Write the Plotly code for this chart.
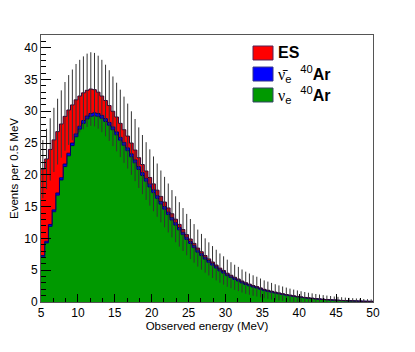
import numpy as np
import plotly.graph_objects as go

# energy bins: 0.5 MeV wide, lower edges from 5 to 49.5 MeV
bin_lo = np.arange(5.0, 50.0, 0.5)

# nu_e 40Ar (bottom, green)
nue_ar = [7.1, 9.3, 11.9, 14.2, 16.8, 19.2, 21.3, 23.0, 24.6, 26.0,
          27.2, 28.1, 28.8, 29.2, 29.3, 29.2, 28.9, 28.4, 27.8, 27.1,
          26.3, 25.45, 24.65, 23.8, 22.85, 21.9, 20.85, 19.9, 19.0, 18.1,
          17.2, 16.3, 15.4, 14.6, 13.75, 12.9, 12.1, 11.35, 10.6, 9.85,
          9.2, 8.55, 7.85, 7.3, 6.75, 6.25, 5.8, 5.35, 4.9, 4.55,
          4.15, 3.85, 3.55, 3.3, 3.0, 2.75, 2.55, 2.35, 2.2, 2.0,
          1.8, 1.67, 1.54, 1.4, 1.29, 1.17, 1.07, 0.97, 0.87, 0.8,
          0.72, 0.65, 0.58, 0.54, 0.48, 0.43, 0.39, 0.35, 0.31, 0.28,
          0.25, 0.22, 0.2, 0.18, 0.17, 0.15, 0.13, 0.11, 0.1, 0.09]

# anti-nu_e 40Ar (middle, blue)
nuebar_ar = [0.2, 0.25, 0.3, 0.3, 0.35, 0.35, 0.4, 0.4, 0.4, 0.45,
             0.45, 0.45, 0.45, 0.45, 0.45, 0.45, 0.45, 0.45, 0.45, 0.45,
             0.45, 0.45, 0.45, 0.45, 0.45, 0.45, 0.45, 0.45, 0.45, 0.44,
             0.43, 0.42, 0.41, 0.4, 0.39, 0.38, 0.37, 0.36, 0.35, 0.34,
             0.33, 0.32, 0.31, 0.3, 0.29, 0.28, 0.27, 0.26, 0.25, 0.24,
             0.23, 0.22, 0.21, 0.2, 0.19, 0.18, 0.17, 0.16, 0.15, 0.14,
             0.13, 0.12, 0.11, 0.1, 0.09, 0.09, 0.08, 0.07, 0.07, 0.06,
             0.06, 0.05, 0.05, 0.04, 0.04, 0.04, 0.03, 0.03, 0.03, 0.02,
             0.02, 0.02, 0.02, 0.02, 0.01, 0.01, 0.01, 0.01, 0.01, 0.01]

# elastic scattering (top, red)
es = [13.6, 12.95, 11.8, 11.0, 9.65, 8.45, 7.5, 6.8, 6.0, 5.35,
      4.75, 4.35, 4.05, 3.85, 3.65, 3.35, 3.05, 2.85, 2.65, 2.45,
      2.35, 2.2, 2.0, 1.85, 1.7, 1.55, 1.4, 1.27, 1.15, 1.05,
      0.95, 0.87, 0.8, 0.72, 0.65, 0.6, 0.55, 0.5, 0.45, 0.41,
      0.38, 0.35, 0.32, 0.3, 0.27, 0.25, 0.22, 0.2, 0.18, 0.17,
      0.15, 0.14, 0.13, 0.12, 0.11, 0.1, 0.09, 0.08, 0.07, 0.07,
      0.06, 0.06, 0.05, 0.05, 0.04, 0.04, 0.03, 0.03, 0.03, 0.02,
      0.02, 0.02, 0.02, 0.01, 0.01, 0.01, 0.01, 0.01, 0.01, 0.01,
      0.01, 0.01, 0.0, 0.0, 0.0, 0.0, 0.0, 0.0, 0.0, 0.0]

edges = np.append(bin_lo, bin_lo[-1] + 0.5)
centers = bin_lo + 0.25
total = np.array(nue_ar) + np.array(nuebar_ar) + np.array(es)

fig = go.Figure()

# stacked step histograms, bottom to top
for vals, fillc, linec in [(nue_ar, '#009900', '#000066'),
                           (nuebar_ar, '#0000ff', '#000066'),
                           (es, '#ff0000', '#330033')]:
    fig.add_trace(go.Scatter(
        x=edges, y=list(vals) + [vals[-1]],
        mode='lines', line=dict(shape='hv', width=1, color=linec),
        fillcolor=fillc, stackgroup='one', hoverinfo='skip'))

# poisson error bars on the sum
fig.add_trace(go.Scatter(
    x=centers, y=total, mode='markers',
    marker=dict(size=0.1, color='rgba(0,0,0,0)'),
    error_y=dict(type='sqrt', color='#333333', thickness=1, width=0)))

# legend (drawn by hand, ROOT style)
legend_rows = [
    ('#ff0000', '#552255', '<b>ES</b>'),
    ('#0000ff', '#333388',
     "<span style='font-family:Liberation Serif'>\u03bd\u0304</span><sub>e</sub>&nbsp;&nbsp;<sup>40</sup><b>Ar</b>"),
    ('#009900', '#334466',
     "<span style='font-family:Liberation Serif'>\u03bd</span><sub>e</sub>&nbsp;&nbsp;<sup>40</sup><b>Ar</b>"),
]
row_top = [0.9588, 0.880, 0.8015]
for (fc, lc, txt), top in zip(legend_rows, row_top):
    fig.add_shape(type='rect', xref='paper', yref='paper',
                  x0=0.6386, x1=0.6988, y0=top - 0.0524, y1=top,
                  fillcolor=fc, line=dict(color=lc, width=1))
    fig.add_annotation(xref='paper', yref='paper', x=0.708, y=top - 0.026,
                       xanchor='left', yanchor='middle', showarrow=False,
                       text=txt, font=dict(size=16, color='black'))

# page body has an 8px margin, so the margins are trimmed by that much
fig.update_layout(
    width=415, height=352,
    margin=dict(l=33, r=50, t=27, b=58, autoexpand=False),
    paper_bgcolor='white', plot_bgcolor='white',
    showlegend=False,
    font=dict(family='Liberation Sans, Arial, sans-serif', color='black'),
)
fig.update_xaxes(
    range=[5, 50], tickvals=[5, 10, 15, 20, 25, 30, 35, 40, 45, 50],
    ticks='inside', ticklen=8, tickcolor='black', tickfont=dict(size=12),
    minor=dict(dtick=5 / 3, tick0=5, ticks='inside', ticklen=4, tickcolor='black'),
    showline=True, linecolor='#555555', linewidth=1, mirror=True,
    showgrid=False, zeroline=False,
    title=dict(text='Observed energy (MeV)', font=dict(size=11.5), standoff=1),
)
fig.update_yaxes(
    range=[0, 42], tickvals=[0, 5, 10, 15, 20, 25, 30, 35, 40],
    ticks='inside', ticklen=10, tickcolor='black', tickfont=dict(size=12),
    minor=dict(dtick=1, ticks='inside', ticklen=5, tickcolor='black'),
    showline=True, linecolor='#555555', linewidth=1, mirror=True,
    showgrid=False, zeroline=False,
    title=dict(text='Events per 0.5 MeV', font=dict(size=11.5), standoff=4),
)

fig.write_html("out.html")
